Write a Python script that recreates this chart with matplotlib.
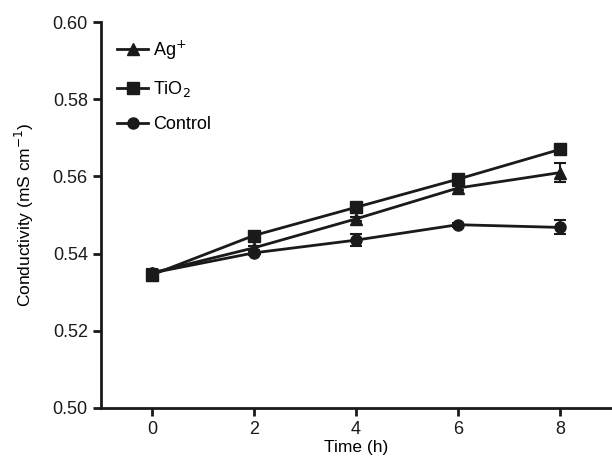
import matplotlib.pyplot as plt

plt.rcParams["font.family"] = ["Liberation Sans", "DejaVu Sans"]

time_h = [0, 2, 4, 6, 8]
ag_vals = [0.5350, 0.5415, 0.5490, 0.5570, 0.5610]
ag_err = [0.0008, 0.0005, 0.0006, 0.0005, 0.0025]
tio2_vals = [0.5345, 0.5447, 0.5520, 0.5593, 0.5670]
tio2_err = [0.0015, 0.0008, 0.0006, 0.0007, 0.0005]
control_vals = [0.5350, 0.5402, 0.5435, 0.5475, 0.5468]
control_err = [0.0008, 0.0005, 0.0015, 0.0005, 0.0018]

series = [
    ("Ag$^{+}$", ag_vals, ag_err, "^"),
    ("TiO$_{2}$", tio2_vals, tio2_err, "s"),
    ("Control", control_vals, control_err, "o"),
]

ink = "#1a1a1a"
fig = plt.figure(figsize=(6.12, 4.62), dpi=100)
ax = fig.add_axes([0.165, 0.117, 0.833, 0.835])

for label, vals, err, marker in series:
    ax.errorbar(time_h, vals, yerr=err, color=ink, fmt="none",
                elinewidth=1.5, capsize=4, capthick=1.5)
    ax.plot(time_h, vals, color=ink, marker=marker, markersize=8,
            linewidth=2, label=label)

ax.set_xlim(-1, 9)
ax.set_ylim(0.50, 0.60)
ax.set_xticks(time_h)
ax.set_yticks([0.50, 0.52, 0.54, 0.56, 0.58, 0.60])
ax.set_yticklabels(["0.50", "0.52", "0.54", "0.56", "0.58", "0.60"])
ax.spines["top"].set_visible(False)
ax.spines["right"].set_visible(False)
for s in ("left", "bottom"):
    ax.spines[s].set_linewidth(2)
    ax.spines[s].set_color(ink)
ax.tick_params(width=2, length=6, labelsize=13, colors=ink)
ax.set_xlabel("Time (h)", fontsize=12.5, labelpad=1)
ax.set_ylabel("Conductivity (mS cm$^{-1}$)", fontsize=12.5, labelpad=12)

ax.legend(loc="upper left", frameon=False, fontsize=13,
          handlelength=1.7, handletextpad=0.3, labelspacing=0.95,
          bbox_to_anchor=(0.0, 1.0))

fig.savefig("out.png", dpi=100)
